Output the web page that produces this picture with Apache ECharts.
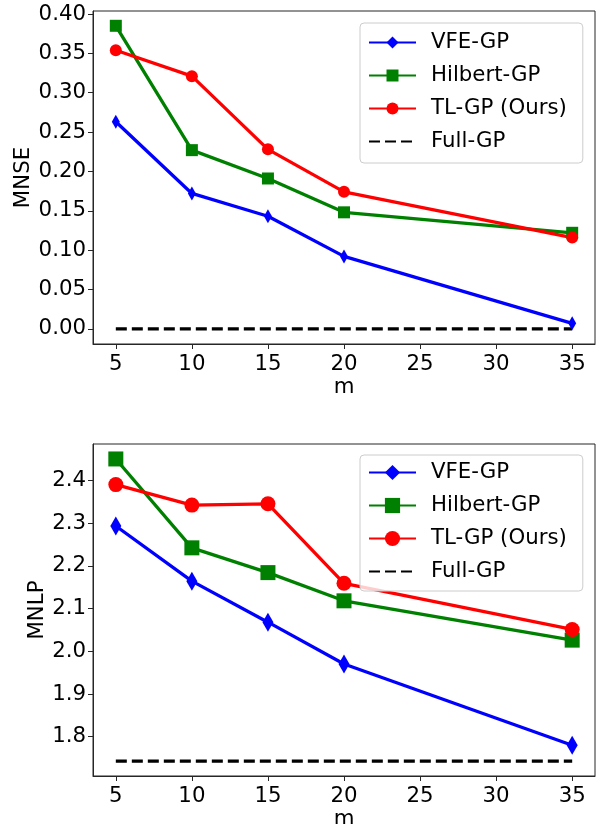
<!DOCTYPE html>
<html><head><meta charset="utf-8">
<script src="https://cdn.jsdelivr.net/npm/echarts@6/dist/echarts.min.js"></script>
<style>html,body{margin:0;padding:0;background:#fff}#c{width:598px;height:824px}</style>
</head><body><div id="c"></div>
<script>
const mValues = [5, 10, 15, 20, 35];
const seriesNames = ['VFE-GP', 'Hilbert-GP', 'TL-GP (Ours)', 'Full-GP'];
// MNSE (top)
const vfeMNSE = [0.263, 0.172, 0.143, 0.092, 0.007];
const hilbertMNSE = [0.385, 0.227, 0.191, 0.148, 0.122];
const tlMNSE = [0.354, 0.321, 0.228, 0.174, 0.116];
const fullMNSE = [0.0, 0.0, 0.0, 0.0, 0.0];
// MNLP (bottom)
const vfeMNLP = [2.293, 2.164, 2.068, 1.970, 1.780];
const hilbertMNLP = [2.450, 2.242, 2.184, 2.118, 2.026];
const tlMNLP = [2.390, 2.342, 2.345, 2.159, 2.051];
const fullMNLP = [1.743, 1.743, 1.743, 1.743, 1.743];
// ticks
const xTicks = [5, 10, 15, 20, 25, 30, 35];
const yTicksTop = [0.00, 0.05, 0.10, 0.15, 0.20, 0.25, 0.30, 0.35, 0.40];
const yTicksBottom = [1.8, 1.9, 2.0, 2.1, 2.2, 2.3, 2.4];

const FONT = 'DejaVu Sans';
const FS = 21.3;
const colors = ['#0000ff', '#008000', '#ff0000', '#000000'];
const SPINE = '#262626';

const pairs = arr => mValues.map((m, i) => [m, arr[i]]);

function xAxis(gi) {
  return {
    type: 'value', gridIndex: gi, min: 3.5, max: 36.5,
    name: 'm', nameLocation: 'middle', nameGap: 33,
    nameTextStyle: {fontFamily: FONT, fontSize: FS, color: '#000'},
    splitLine: {show: false},
    axisLine: {show: true, onZero: false, lineStyle: {color: SPINE, width: 1}},
    axisTick: {show: true, inside: false, length: 5, customValues: xTicks, lineStyle: {color: SPINE, width: 1}},
    axisLabel: {customValues: xTicks, fontFamily: FONT, fontSize: FS, color: '#000', margin: 10}
  };
}
function yAxis(gi, min, max, ticks, dec, name, gap) {
  return {
    type: 'value', gridIndex: gi, min: min, max: max,
    name: name, nameLocation: 'middle', nameGap: gap, nameRotate: 90, nameMoveOverlap: false,
    nameTextStyle: {fontFamily: FONT, fontSize: FS, color: '#000'},
    splitLine: {show: false},
    axisLine: {show: true, onZero: false, lineStyle: {color: SPINE, width: 1}},
    axisTick: {show: true, inside: false, length: 5, customValues: ticks, lineStyle: {color: SPINE, width: 1}},
    axisLabel: {customValues: ticks, fontFamily: FONT, fontSize: FS, color: '#000', margin: 7,
      formatter: v => Number(v).toFixed(dec)}
  };
}
function mk(name, data, gi, color, symbol, size, dashed) {
  return {
    type: 'line', name: name, xAxisIndex: gi, yAxisIndex: gi, data: pairs(data),
    symbol: symbol, symbolSize: size, showSymbol: symbol !== 'none',
    lineStyle: {color: color, width: 3.3, type: dashed ? [11, 5] : 'solid'},
    itemStyle: {color: color, borderWidth: 0},
    emphasis: {disabled: true}, animation: false, z: 2, clip: false
  };
}
function legend(id, top, symSize, pad) {
  return {
    id: id,
    orient: 'vertical', left: 360, top: top,
    itemWidth: 47, itemHeight: symSize, itemGap: 12,
    padding: pad,
    backgroundColor: 'rgba(255,255,255,0.8)', borderColor: '#cccccc', borderWidth: 1, borderRadius: 4,
    textStyle: {fontFamily: FONT, fontSize: FS, color: '#000', padding: [0, 0, 0, 10]},
    data: seriesNames.map(n => n === 'Full-GP' ? {name: n, itemStyle: {opacity: 0}} : n)
  };
}

const chart = echarts.init(document.getElementById('c'), null, {renderer: 'canvas'});
chart.setOption({
  animation: false,
  grid: [
    {left: 93, top: 11, width: 502, height: 333, show: true, borderColor: SPINE, borderWidth: 1, backgroundColor: 'transparent', containLabel: false, outerBoundsMode: 'none'},
    {left: 93, top: 444, width: 502, height: 332, show: true, borderColor: SPINE, borderWidth: 1, backgroundColor: 'transparent', containLabel: false, outerBoundsMode: 'none'}
  ],
  xAxis: [xAxis(0), xAxis(1)],
  yAxis: [yAxis(0, -0.0193, 0.4038, yTicksTop, 2, 'MNSE', 59), yAxis(1, 1.708, 2.485, yTicksBottom, 1, 'MNLP', 45)],
  legend: [
    legend('l0', 23, 15, [9, 16, 11, 8]),
    legend('l1', 455, 19, [7, 16, 9, 8])
  ],
  series: [
    mk('VFE-GP', vfeMNSE, 0, colors[0], 'diamond', [8, 14], false),
    mk('Hilbert-GP', hilbertMNSE, 0, colors[1], 'rect', 12, false),
    mk('TL-GP (Ours)', tlMNSE, 0, colors[2], 'circle', 12, false),
    mk('Full-GP', fullMNSE, 0, colors[3], 'none', 0, true),
    mk('VFE-GP', vfeMNLP, 1, colors[0], 'diamond', [11, 19], false),
    mk('Hilbert-GP', hilbertMNLP, 1, colors[1], 'rect', 15, false),
    mk('TL-GP (Ours)', tlMNLP, 1, colors[2], 'circle', 15, false),
    mk('Full-GP', fullMNLP, 1, colors[3], 'none', 0, true)
  ]
});
</script></body></html>
